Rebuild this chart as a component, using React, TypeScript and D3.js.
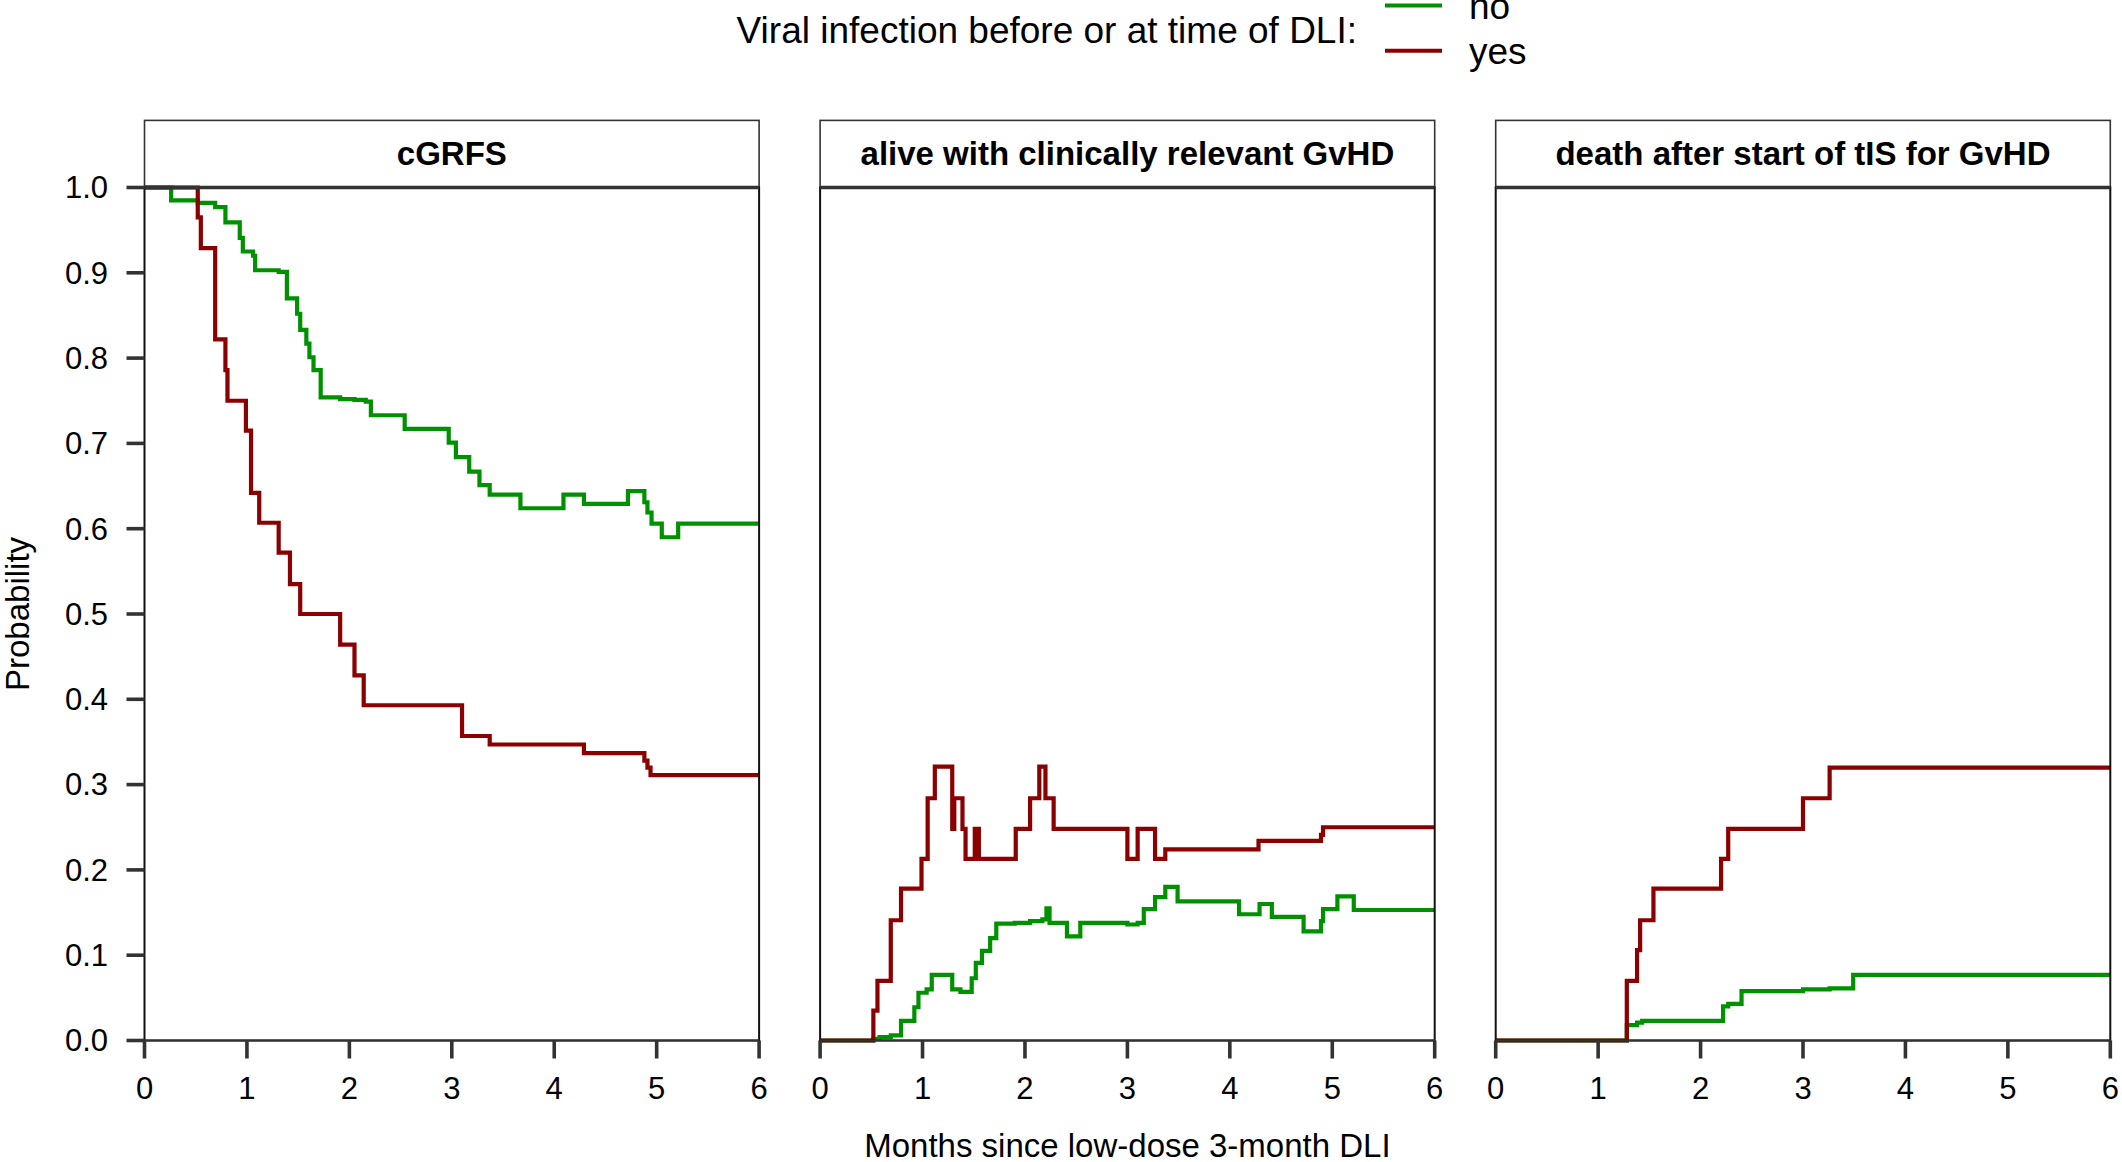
import * as d3 from "d3";

// Kaplan-Meier style step data (time in months, probability)
const panelTitles = ["cGRFS", "alive with clinically relevant GvHD", "death after start of tIS for GvHD"];
const groupLabels = ["no", "yes"];
const groupColors = ["#009100", "#8b0000"];

const cgrfsNoTime = [0, 0.26, 0.52, 0.69, 0.79, 0.93, 0.96, 1.06, 1.08, 1.31, 1.39, 1.49, 1.52, 1.58, 1.61, 1.65, 1.72, 1.91, 2.05, 2.16, 2.21, 2.54, 2.97, 3.04, 3.17, 3.27, 3.37, 3.67, 4.09, 4.29, 4.72, 4.88, 4.91, 4.95, 5.05, 5.21, 6];
const cgrfsNoProb = [1, 0.985, 0.982, 0.977, 0.959, 0.941, 0.925, 0.92, 0.903, 0.901, 0.87, 0.852, 0.833, 0.817, 0.801, 0.786, 0.754, 0.752, 0.751, 0.749, 0.733, 0.717, 0.701, 0.684, 0.667, 0.651, 0.64, 0.624, 0.64, 0.629, 0.644, 0.631, 0.619, 0.606, 0.59, 0.606, 0.606];
const cgrfsYesTime = [0, 0.52, 0.55, 0.69, 0.79, 0.81, 0.99, 1.04, 1.12, 1.31, 1.42, 1.52, 1.91, 2.05, 2.14, 3.1, 3.37, 4.29, 4.88, 4.91, 4.94, 6];
const cgrfsYesProb = [1, 0.965, 0.929, 0.822, 0.786, 0.75, 0.715, 0.642, 0.607, 0.572, 0.535, 0.5, 0.464, 0.428, 0.393, 0.357, 0.347, 0.337, 0.328, 0.32, 0.311, 0.311];

const gvhdNoTime = [0, 0.52, 0.58, 0.69, 0.79, 0.92, 0.96, 1.04, 1.09, 1.29, 1.37, 1.48, 1.52, 1.58, 1.66, 1.72, 1.9, 2.05, 2.17, 2.21, 2.24, 2.41, 2.54, 3.0, 3.1, 3.16, 3.27, 3.37, 3.49, 4.09, 4.29, 4.41, 4.72, 4.89, 4.91, 5.05, 5.21, 6];
const gvhdNoProb = [0, 0.002, 0.004, 0.006, 0.023, 0.039, 0.056, 0.06, 0.077, 0.06, 0.057, 0.073, 0.091, 0.105, 0.12, 0.137, 0.138, 0.14, 0.142, 0.155, 0.138, 0.122, 0.138, 0.136, 0.138, 0.154, 0.168, 0.18, 0.163, 0.148, 0.16, 0.145, 0.128, 0.14, 0.154, 0.169, 0.153, 0.153];
const gvhdYesTime = [0, 0.52, 0.56, 0.69, 0.79, 0.99, 1.05, 1.12, 1.29, 1.31, 1.39, 1.42, 1.51, 1.55, 1.91, 2.05, 2.14, 2.2, 2.28, 3.0, 3.1, 3.27, 3.37, 4.28, 4.89, 4.91, 6];
const gvhdYesProb = [0, 0.035, 0.07, 0.141, 0.178, 0.213, 0.284, 0.321, 0.248, 0.284, 0.248, 0.213, 0.248, 0.213, 0.248, 0.284, 0.321, 0.284, 0.248, 0.213, 0.248, 0.213, 0.224, 0.234, 0.241, 0.25, 0.25];

const deathNoTime = [0, 1.28, 1.38, 1.43, 2.22, 2.27, 2.4, 3.0, 3.26, 3.49, 6];
const deathNoProb = [0, 0.018, 0.021, 0.023, 0.04, 0.043, 0.058, 0.06, 0.061, 0.077, 0.077];
const deathYesTime = [0, 1.28, 1.38, 1.41, 1.54, 2.2, 2.27, 3.0, 3.26, 6];
const deathYesProb = [0, 0.07, 0.106, 0.141, 0.178, 0.213, 0.248, 0.284, 0.32, 0.32];

const xTicks = [0, 1, 2, 3, 4, 5, 6];
const yTicks = [0, 0.1, 0.2, 0.3, 0.4, 0.5, 0.6, 0.7, 0.8, 0.9, 1.0];

const legendTitle = "Viral infection before or at time of DLI:";
const xTitle = "Months since low-dose 3-month DLI";
const yTitle = "Probability";

const W = 2122;
const H = 1162;
const FONT = "'Liberation Sans', Arial, Helvetica, sans-serif";

const zip = (t: number[], p: number[]) => t.map((d, i) => [d, p[i]] as [number, number]);

const panels = [
  [zip(cgrfsNoTime, cgrfsNoProb), zip(cgrfsYesTime, cgrfsYesProb)],
  [zip(gvhdNoTime, gvhdNoProb), zip(gvhdYesTime, gvhdYesProb)],
  [zip(deathNoTime, deathNoProb), zip(deathYesTime, deathYesProb)],
];

export default function App() {
  const panelW = 614.6;
  const step = 675.6;
  const left0 = 144.5;
  const stripTop = 120.4;
  const top = 187.5;
  const bottom = 1040.5;

  const y = d3.scaleLinear().domain([0, 1]).range([bottom, top]);

  return (
    <div style={{ position: "absolute", left: 0, top: 0 }}>
      <svg width={W} height={H} viewBox={`0 0 ${W} ${H}`} style={{ display: "block", background: "#fff" }} fontFamily={FONT}>
        {/* legend */}
        <text x={1357} y={43} fontSize={37} textAnchor="end" fill="#000">{legendTitle}</text>
        {groupLabels.map((g, i) => (
          <g key={g}>
            <line x1={1385} x2={1442} y1={5.5 + i * 45.2} y2={5.5 + i * 45.2} stroke={groupColors[i]} strokeWidth={4} />
            <text x={1469} y={18.5 + i * 45.2} fontSize={37} fill="#000">{g}</text>
          </g>
        ))}

        {panels.map((series, pi) => {
          const x0 = left0 + pi * step;
          const x = d3.scaleLinear().domain([0, 6]).range([x0, x0 + panelW]);
          const line = d3
            .line<[number, number]>()
            .x(d => x(d[0]))
            .y(d => y(d[1]))
            .curve(d3.curveStepAfter);
          return (
            <g key={pi}>
              {/* strip */}
              <rect x={x0} y={stripTop} width={panelW} height={top - stripTop} fill="#fff" stroke="#333" strokeWidth={1.6} />
              <text x={x0 + panelW / 2} y={165} fontSize={33} fontWeight="bold" textAnchor="middle" fill="#000">
                {panelTitles[pi]}
              </text>
              {series.map((s, si) => (
                <path key={si} d={line(s) ?? ""} fill="none" stroke={groupColors[si]} strokeWidth={4.2} />
              ))}
              {/* panel border */}
              <rect x={x0} y={top} width={panelW} height={bottom - top} fill="none" stroke="#111" strokeWidth={2} />
              <line x1={x0} x2={x0 + panelW} y1={top} y2={top} stroke="#333" strokeWidth={3.4} />
              <line x1={x0} x2={x0 + panelW} y1={bottom} y2={bottom} stroke="#333" strokeWidth={2} />
              {/* x ticks */}
              {xTicks.map(t => (
                <g key={t}>
                  <line x1={x(t)} x2={x(t)} y1={bottom} y2={bottom + 18} stroke="#333" strokeWidth={3.6} />
                  <text x={x(t)} y={1099} fontSize={31} textAnchor="middle" fill="#000">{t}</text>
                </g>
              ))}
              {/* y ticks only on the first panel */}
              {pi === 0 &&
                yTicks.map(t => (
                  <g key={t}>
                    <line x1={x0 - 18} x2={x0} y1={y(t)} y2={y(t)} stroke="#333" strokeWidth={3.6} />
                    <text x={108} y={y(t)} dy="0.35em" fontSize={31} textAnchor="end" fill="#000">
                      {d3.format(".1f")(t)}
                    </text>
                  </g>
                ))}
            </g>
          );
        })}

        {/* axis titles */}
        <text x={left0 + step + panelW / 2} y={1157} fontSize={33} textAnchor="middle" fill="#000">{xTitle}</text>
        <text transform={`translate(28.5, ${(top + bottom) / 2}) rotate(-90)`} fontSize={33} textAnchor="middle" fill="#000">
          {yTitle}
        </text>
      </svg>
    </div>
  );
}
